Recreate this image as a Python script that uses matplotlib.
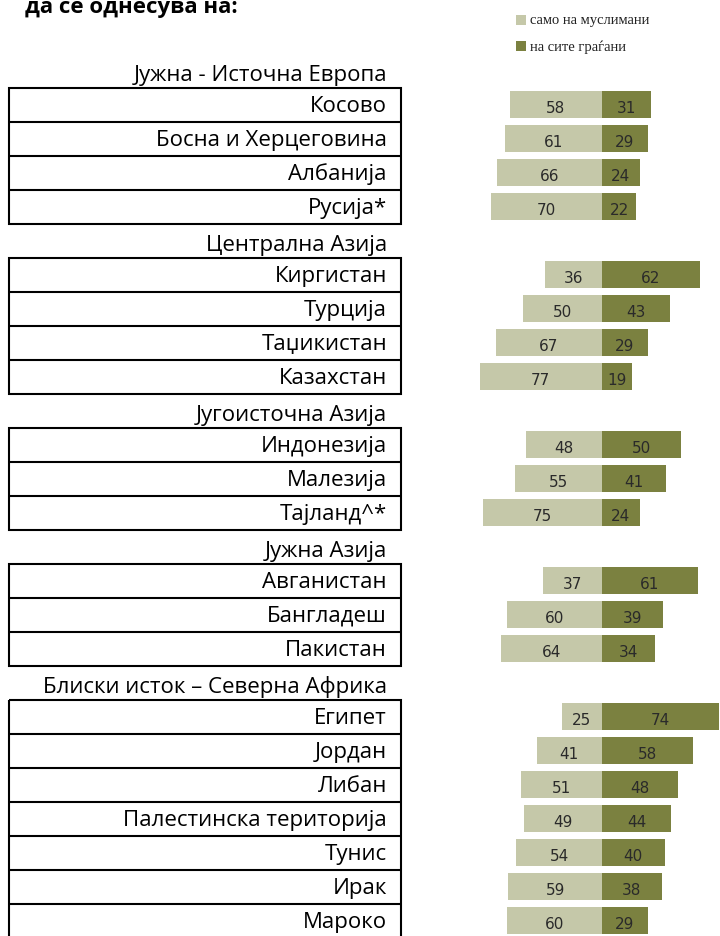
import matplotlib
matplotlib.use("Agg")
import matplotlib.pyplot as plt
from matplotlib.patches import Rectangle

# --- data -------------------------------------------------------------
title = "да се однесува на:"
legend_labels = ["само на муслимани", "на сите граѓани"]

regions = [
    "Јужна - Источна Европа",
    "Централна Азија",
    "Југоисточна Азија",
    "Јужна Азија",
    "Блиски исток – Северна Африка",
]
region_sizes = [4, 4, 3, 3, 7]

countries = [
    "Косово", "Босна и Херцеговина", "Албанија", "Русија*",
    "Киргистан", "Турција", "Таџикистан", "Казахстан",
    "Индонезија", "Малезија", "Тајланд^*",
    "Авганистан", "Бангладеш", "Пакистан",
    "Египет", "Јордан", "Либан", "Палестинска територија", "Тунис", "Ирак", "Мароко",
]
muslims_only = [58, 61, 66, 70, 36, 50, 67, 77, 48, 55, 75, 37, 60, 64,
                25, 41, 51, 49, 54, 59, 60]
all_citizens = [31, 29, 24, 22, 62, 43, 29, 19, 50, 41, 24, 61, 39, 34,
                74, 58, 48, 44, 40, 38, 29]

# --- layout -----------------------------------------------------------
W, H = 720, 937
ROW_PX = 34.0          # height of one table row
TOP_PX = 89.3          # top edge of the first bordered box
BOX_L, BOX_R = 9.3, 401.0
TEXT_R = 387.0
ZERO_PX = 601.7        # where the diverging bars meet
PX_PER_PCT = 1.58

LIGHT = "#c5c8a9"
DARK = "#7b8140"
FONT = ["Open Sans", "DejaVu Sans"]
NUM_FONT = ["DejaVu Sans"]


def px2row(y_px):
    return (y_px - TOP_PX) / ROW_PX


fig = plt.figure(figsize=(W / 100, H / 100), dpi=100)
fig.patch.set_facecolor("white")

y_lim = (px2row(H), px2row(0))

ax_tab = fig.add_axes([0, 0, 1, 1])
ax_tab.set_xlim(0, W)
ax_tab.set_ylim(*y_lim)
ax_tab.axis("off")

ax_bar = fig.add_axes([0, 0, 1, 1])
ax_bar.set_xlim(-ZERO_PX / PX_PER_PCT, (W - ZERO_PX) / PX_PER_PCT)
ax_bar.set_ylim(*y_lim)
ax_bar.axis("off")
ax_bar.patch.set_alpha(0)

# --- label table ------------------------------------------------------
row = -1
label_rows = []
idx = 0
for region, n in zip(regions, region_sizes):
    ax_tab.text(TEXT_R, row + 0.75, region, ha="right", va="baseline",
                fontsize=16, family=FONT, color="black")
    top = row + 1
    ax_tab.add_patch(Rectangle((BOX_L, top), BOX_R - BOX_L, n, fill=False,
                               ec="black", lw=1.5, clip_on=False))
    for k in range(n):
        r = top + k
        if k > 0:
            ax_tab.plot([BOX_L, BOX_R], [r, r], color="black", lw=1.5,
                        solid_capstyle="butt")
        ax_tab.text(TEXT_R, r + 0.66, countries[idx], ha="right", va="baseline",
                    fontsize=16, family=FONT, color="black")
        label_rows.append(r)
        idx += 1
    row += n + 1

# --- diverging bars ---------------------------------------------------
bar_y = [r + 0.48 for r in label_rows]
ax_bar.barh(bar_y, [-v for v in muslims_only], height=0.78, color=LIGHT, lw=0)
ax_bar.barh(bar_y, all_citizens, height=0.78, color=DARK, lw=0)
for y, a, b in zip(bar_y, muslims_only, all_citizens):
    ax_bar.text(-a / 2, y + 0.03, f"{a}", ha="center", va="center_baseline",
                fontsize=11, family=NUM_FONT, color="#2a2a2a")
    ax_bar.text(b / 2, y + 0.03, f"{b}", ha="center", va="center_baseline",
                fontsize=11, family=NUM_FONT, color="#2a2a2a")

# --- legend -----------------------------------------------------------
for k, (lab, col) in enumerate(zip(legend_labels, [LIGHT, DARK])):
    yc = 20.5 + k * 26.5
    ax_tab.add_patch(Rectangle((516, px2row(yc - 5)), 10, 10 / ROW_PX,
                               color=col, lw=0, clip_on=False))
    ax_tab.text(530, px2row(yc), lab, ha="left", va="center", fontsize=10.5,
                family=["Liberation Serif", "DejaVu Serif"], color="#222222")

# --- heading, running off the top edge ----------------------------------
ax_tab.text(25, px2row(13.5), title, ha="left", va="baseline", fontsize=16,
            fontweight="bold", family=FONT, color="black", clip_on=False)

fig.savefig("out.png", dpi=100, facecolor="white")
